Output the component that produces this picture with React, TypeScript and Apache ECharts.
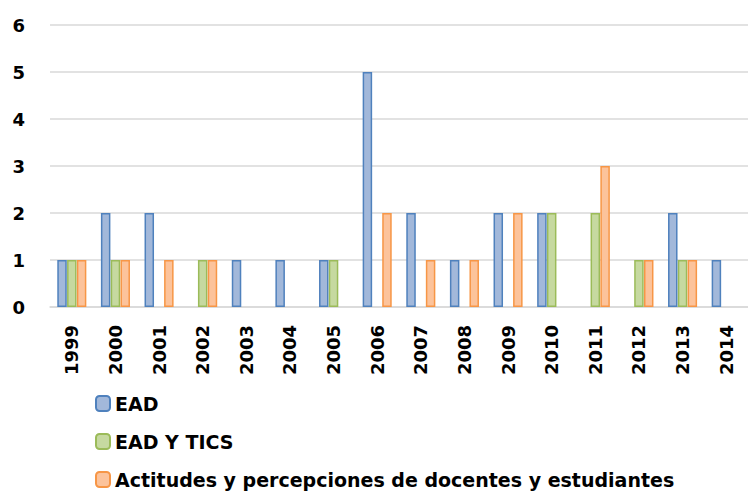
import React, { useEffect, useRef } from "react";
import * as echarts from "echarts";

const years = ["1999","2000","2001","2002","2003","2004","2005","2006","2007","2008","2009","2010","2011","2012","2013","2014"];
const ead = [1, 2, 2, 0, 1, 1, 1, 5, 2, 1, 2, 2, 0, 0, 2, 1];
const eadTics = [1, 1, 0, 1, 0, 0, 1, 0, 0, 0, 0, 2, 2, 1, 1, 0];
const actitudes = [1, 1, 1, 1, 0, 0, 0, 2, 1, 1, 2, 0, 3, 1, 1, 0];
const seriesNames = ["EAD", "EAD Y TICS", "Actitudes y percepciones de docentes y estudiantes"];
const yTicks = [0, 1, 2, 3, 4, 5, 6];

const FONT = "DejaVu Sans";

export default function App() {
  const ref = useRef<HTMLDivElement>(null);
  useEffect(() => {
    if (!ref.current) return;
    const chart = echarts.init(ref.current, null, { renderer: "svg" });
    const mk = (name: string, data: number[], fill: string, border: string) => ({
      name,
      type: "bar",
      data: data.map((v) => (v === 0 ? "-" : v)),
      barWidth: 9.5,
      barGap: "3%",
      itemStyle: { color: fill, borderColor: border, borderWidth: 1.5 },
    });
    chart.setOption({
      animation: false,
      grid: { left: 50, right: -4, top: 25, bottom: 186 },
      xAxis: {
        type: "category",
        data: years,
        axisLine: { show: true, lineStyle: { color: "#d9d9d9", width: 1.5 } },
        axisTick: { show: false },
        axisLabel: {
          rotate: 90,
          margin: 18,
          color: "#000",
          fontFamily: FONT,
          fontWeight: "bold",
          fontSize: 18,
          interval: 0,
        },
      },
      yAxis: {
        type: "value",
        min: yTicks[0],
        max: yTicks[yTicks.length - 1],
        interval: 1,
        axisLine: { show: false },
        axisTick: { show: false },
        splitLine: { lineStyle: { color: "#d9d9d9", width: 1.5 } },
        axisLabel: {
          margin: 25,
          color: "#000",
          fontFamily: FONT,
          fontWeight: "bold",
          fontSize: 18,
        },
      },
      legend: {
        orient: "vertical",
        left: 95,
        top: 394,
        height: 100,
        padding: 0,
        itemWidth: 14,
        itemHeight: 15,
        itemGap: 19,
        data: seriesNames,
        textStyle: { color: "#000", fontFamily: FONT, fontWeight: "bold", fontSize: 19 },
      },
      series: [
        mk(seriesNames[0], ead, "#a2b8da", "#4f81bd"),
        mk(seriesNames[1], eadTics, "#c6d9a0", "#9bbb59"),
        mk(seriesNames[2], actitudes, "#fcc39b", "#f79646"),
      ],
    });
    return () => chart.dispose();
  }, []);
  return (
    <div
      ref={ref}
      style={{ position: "absolute", left: 0, top: 0, width: 748, height: 493 }}
    />
  );
}
